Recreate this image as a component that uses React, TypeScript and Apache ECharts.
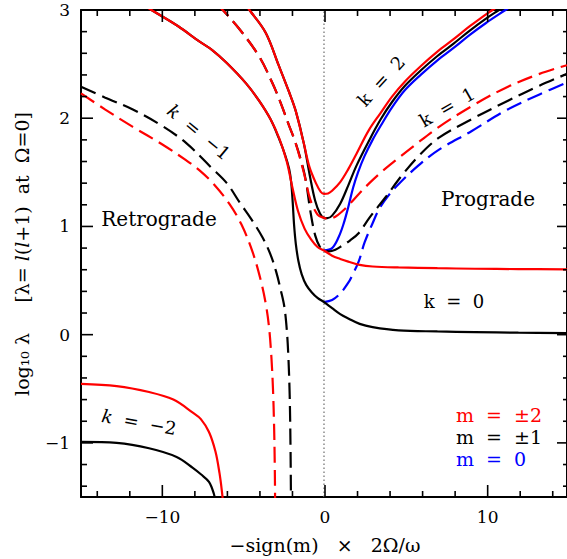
import React, { useEffect, useRef } from "react";
import * as echarts from "echarts";

// Curves: [x, log10 λ], x = −sign(m) × 2Ω/ω
// m = ±1 (black)
const m1K0: number[][] = [
  [-11.2, 3.05], [-10.65, 3.0], [-9.0, 2.85], [-7.7, 2.71], [-6.9, 2.63], [-6.0, 2.51],
  [-4.8, 2.32], [-4.0, 2.16], [-3.3, 1.99], [-2.8, 1.82], [-2.4, 1.66], [-2.15, 1.53],
  [-2.02, 1.40], [-1.93, 1.22], [-1.85, 1.02], [-1.74, 0.84], [-1.58, 0.68], [-1.38, 0.56],
  [-1.1, 0.46], [-0.75, 0.39], [-0.4, 0.34], [0, 0.301], [0.5, 0.245], [1.0, 0.19],
  [1.5, 0.15], [2.2, 0.10], [3.0, 0.07], [4.6, 0.04], [7.0, 0.03], [9.3, 0.024],
  [12.0, 0.018], [15.0, 0.015],
];
const m1K1: number[][] = [
  [-6.6, 3.05], [-6.25, 3.0], [-5.2, 2.82], [-4.0, 2.57], [-3.2, 2.33], [-2.75, 2.17],
  [-2.15, 1.93], [-1.75, 1.77], [-1.4, 1.6], [-1.13, 1.43], [-0.85, 1.15], [-0.55, 0.92],
  [-0.25, 0.81], [0, 0.778], [0.3, 0.77], [0.7, 0.785], [1.1, 0.82], [1.6, 0.87],
  [2.15, 0.94], [2.8, 1.08], [3.8, 1.27], [4.8, 1.47], [5.9, 1.66], [7.1, 1.82],
  [9.1, 1.99], [11.2, 2.15], [13.3, 2.30], [15.0, 2.41],
];
const m1K2: number[][] = [
  [-4.85, 3.05], [-4.6, 3.0], [-3.6, 2.79], [-2.8, 2.49], [-2.15, 2.24], [-1.75, 2.07],
  [-1.25, 1.77], [-0.85, 1.45], [-0.55, 1.24], [-0.25, 1.12], [0, 1.079], [0.2, 1.076],
  [0.5, 1.10], [1.0, 1.21], [1.5, 1.38], [2.0, 1.56], [2.77, 1.79], [3.5, 1.99],
  [4.2, 2.15], [5.0, 2.30], [6.0, 2.445], [7.0, 2.575], [8.0, 2.69], [9.0, 2.81],
  [10.0, 2.92], [10.8, 3.0], [11.3, 3.05],
];
const m1Km1: number[][] = [
  [-15, 2.29], [-13.5, 2.19], [-11.8, 2.08], [-10, 1.93], [-8.5, 1.77], [-7.0, 1.55],
  [-6.0, 1.40], [-5.2, 1.22], [-4.5, 1.07], [-3.8, 0.90], [-3.3, 0.74], [-2.95, 0.58],
  [-2.65, 0.40], [-2.45, 0.26], [-2.3, 0.05], [-2.2, -0.2], [-2.12, -0.55],
  [-2.07, -1.0], [-2.04, -1.5], [-2.03, -1.7],
];
const m1Km2: number[][] = [
  [-15, -0.99], [-12.8, -1.0], [-10.8, -1.05], [-9.1, -1.13], [-8.1, -1.23],
  [-7.6, -1.29], [-7.1, -1.36], [-6.8, -1.47], [-6.7, -1.55],
];

// m = ±2 (red)
const m2K0: number[][] = [
  [-11.2, 3.05], [-10.65, 3.0], [-9.0, 2.85], [-7.7, 2.71], [-6.9, 2.63], [-6.0, 2.51],
  [-4.8, 2.32], [-4.0, 2.16], [-3.3, 1.99], [-2.75, 1.81], [-2.3, 1.60], [-1.95, 1.36],
  [-1.6, 1.14], [-1.2, 0.98], [-0.8, 0.88], [-0.4, 0.81], [0, 0.778], [0.5, 0.73],
  [1.0, 0.70], [1.5, 0.675], [2.2, 0.645], [3.0, 0.63], [4.6, 0.621], [7.0, 0.614],
  [9.3, 0.609], [12.0, 0.606], [15.0, 0.603],
];
const m2K1: number[][] = [
  [-6.6, 3.05], [-6.25, 3.0], [-5.2, 2.82], [-4.0, 2.57], [-3.2, 2.33], [-2.75, 2.17],
  [-2.15, 1.93], [-1.75, 1.77], [-1.25, 1.50], [-0.85, 1.25], [-0.4, 1.11], [0, 1.079],
  [0.3, 1.07], [0.7, 1.09], [1.13, 1.14], [1.6, 1.21], [2.15, 1.30], [2.8, 1.40],
  [3.6, 1.51], [4.5, 1.62], [5.6, 1.75], [7.1, 1.92], [9.1, 2.11], [11.2, 2.28],
  [13.3, 2.41], [15.0, 2.49],
];
const m2K2: number[][] = [
  [-4.85, 3.05], [-4.6, 3.0], [-3.6, 2.79], [-2.8, 2.49], [-2.15, 2.24], [-1.75, 2.07],
  [-1.25, 1.77], [-0.9, 1.55], [-0.5, 1.40], [-0.2, 1.32], [0, 1.301], [0.25, 1.305],
  [0.5, 1.33], [1.0, 1.41], [1.5, 1.53], [2.0, 1.67], [2.77, 1.89], [3.5, 2.05],
  [4.2, 2.20], [5.0, 2.34], [6.0, 2.485], [7.0, 2.615], [8.0, 2.73], [9.0, 2.85],
  [10.0, 2.96], [10.4, 3.0], [10.9, 3.05],
];
const m2Km1: number[][] = [
  [-15, 2.23], [-13.5, 2.08], [-11.8, 1.92], [-10, 1.76], [-8.5, 1.61], [-7.7, 1.52],
  [-6.8, 1.39], [-5.85, 1.21], [-5.1, 1.02], [-4.4, 0.76], [-3.9, 0.50], [-3.6, 0.29],
  [-3.4, 0.08], [-3.25, -0.2], [-3.15, -0.5], [-3.08, -0.85], [-3.04, -1.2],
  [-3.02, -1.5], [-3.01, -1.7],
];
const m2Km2: number[][] = [
  [-15, -0.455], [-12.8, -0.475], [-10.8, -0.53], [-9.3, -0.60], [-8.1, -0.72],
  [-7.6, -0.78], [-7.1, -0.90], [-6.7, -1.08], [-6.45, -1.28], [-6.3, -1.45], [-6.2, -1.6],
];

// m = 0 (blue), prograde only
const m0K1: number[][] = [
  [0, 0.301], [0.5, 0.32], [1.0, 0.38], [1.5, 0.48], [1.75, 0.55], [2.15, 0.68],
  [2.5, 0.85], [3.0, 1.03], [3.4, 1.16], [4.0, 1.29], [4.6, 1.39], [5.8, 1.56],
  [7.1, 1.71], [9.1, 1.88], [11.2, 2.07], [13.3, 2.22], [15.0, 2.33],
];
const m0K2: number[][] = [
  [0, 0.778], [0.5, 0.80], [0.9, 0.90], [1.2, 1.02], [1.5, 1.18], [1.8, 1.36],
  [2.1, 1.50], [2.5, 1.65], [3.0, 1.80], [3.5, 1.93], [4.2, 2.10], [5.0, 2.26],
  [6.0, 2.405], [7.0, 2.535], [8.0, 2.65], [9.0, 2.77], [10.0, 2.88], [11.2, 3.0],
  [11.7, 3.05],
];

// Axis ranges, labelled ticks and minor tick steps
const xRange = [-15, 15];
const yRange = [-1.5, 3];
const xMajorTicks = [-10, 0, 10];
const yMajorTicks = [-1, 0, 1, 2, 3];
const xMinorStep = 2;
const yMinorStep = 0.2;

const RED = "#ff0000";
const BLACK = "#000000";
const BLUE = "#0000ff";
const FONT = "DejaVu Serif";
const MAJOR_LEN = 12;
const MINOR_LEN = 6;
const TICK_W = 1.6;

// plot box in pixels
const BOX = { left: 81, top: 10, width: 488, height: 487 };

const fmt = (v: number) => (v < 0 ? "\u2212" + Math.abs(v) : String(v));

const stepsIn = (lo: number, hi: number, step: number) => {
  const out: number[] = [];
  for (let i = Math.ceil(lo / step - 1e-9); i * step <= hi + 1e-9; i++) out.push(+(i * step).toFixed(6));
  return out;
};

const UX = BOX.width / (xRange[1] - xRange[0]);
const UY = BOX.height / (yRange[1] - yRange[0]);

// tick marks as thin filled bars on the frame (same linear mapping as the grid)
function tickRects() {
  const out: any[] = [];
  const bar = (x: number, y: number, w: number, h: number) => ({
    type: "rect", silent: true, z: 50,
    shape: { x, y, width: w, height: h },
    style: { fill: BLACK },
  });
  const bottom = BOX.top + BOX.height;
  const right = BOX.left + BOX.width;
  stepsIn(xRange[0], xRange[1], xMinorStep)
    .filter((v) => v > xRange[0] && v < xRange[1])
    .forEach((v) => {
      const len = xMajorTicks.includes(v) ? MAJOR_LEN : MINOR_LEN;
      const px = BOX.left + (v - xRange[0]) * UX;
      out.push(bar(px - TICK_W / 2, bottom - len, TICK_W, len));
      out.push(bar(px - TICK_W / 2, BOX.top, TICK_W, len));
    });
  stepsIn(yRange[0], yRange[1], yMinorStep)
    .filter((v) => v > yRange[0] + 1e-9 && v < yRange[1] - 1e-9)
    .forEach((v) => {
      const len = yMajorTicks.some((t) => Math.abs(t - v) < 1e-6) ? MAJOR_LEN : MINOR_LEN;
      const py = bottom - (v - yRange[0]) * UY;
      out.push(bar(BOX.left, py - TICK_W / 2, len, TICK_W));
      out.push(bar(right - len, py - TICK_W / 2, len, TICK_W));
    });
  return out;
}

function buildOption() {
  const xLo = xMajorTicks[0], xHi = xMajorTicks[xMajorTicks.length - 1];
  const yLo = yMajorTicks[0], yHi = yMajorTicks[yMajorTicks.length - 1];
  const bottom = BOX.top + BOX.height;

  // grid 0 holds the curves; grids 1 and 2 only place the tick labels
  const grids = [
    { ...BOX },
    { left: BOX.left + (xLo - xRange[0]) * UX, width: (xHi - xLo) * UX, top: BOX.top, height: BOX.height },
    { left: BOX.left, width: BOX.width, top: bottom - (yHi - yRange[0]) * UY, height: (yHi - yLo) * UY },
  ].map((g) => ({ ...g, containLabel: false, show: false }));

  const lineAxis = { show: true, onZero: false, lineStyle: { color: BLACK, width: 2 } };
  const noLine = { show: false, onZero: false };
  const hidden = () => ({ show: false });
  const label = { show: true, fontFamily: FONT, fontSize: 17, color: BLACK, formatter: fmt, margin: 11 };

  const xAxis: any[] = [
    { type: "value", gridIndex: 0, position: "bottom", min: xRange[0], max: xRange[1], axisLine: lineAxis, axisTick: hidden(), axisLabel: hidden(), splitLine: hidden() },
    { type: "value", gridIndex: 0, position: "top", min: xRange[0], max: xRange[1], axisLine: lineAxis, axisTick: hidden(), axisLabel: hidden(), splitLine: hidden() },
    { type: "value", gridIndex: 1, position: "bottom", min: xLo, max: xHi, interval: xMajorTicks[1] - xMajorTicks[0], axisLine: noLine, axisTick: hidden(), axisLabel: label, splitLine: hidden() },
    { type: "value", gridIndex: 2, show: false, min: xRange[0], max: xRange[1] },
  ];
  const yAxis: any[] = [
    { type: "value", gridIndex: 0, position: "left", min: yRange[0], max: yRange[1], axisLine: lineAxis, axisTick: hidden(), axisLabel: hidden(), splitLine: hidden() },
    { type: "value", gridIndex: 0, position: "right", min: yRange[0], max: yRange[1], axisLine: lineAxis, axisTick: hidden(), axisLabel: hidden(), splitLine: hidden() },
    { type: "value", gridIndex: 1, show: false, min: yRange[0], max: yRange[1] },
    { type: "value", gridIndex: 2, position: "left", min: yLo, max: yHi, interval: yMajorTicks[1] - yMajorTicks[0], axisLine: noLine, axisTick: hidden(), axisLabel: label, splitLine: hidden() },
  ];

  const curve = (data: number[][], color: string, dashed: boolean, z: number) => ({
    type: "line",
    xAxisIndex: 0,
    yAxisIndex: 0,
    data,
    smooth: 0.35,
    symbol: "none",
    silent: true,
    clip: true,
    z,
    lineStyle: { color, width: 2.2, type: dashed ? [16, 7] : "solid", cap: "butt" },
  });

  const series: any[] = [
    {
      type: "line", xAxisIndex: 0, yAxisIndex: 0, symbol: "none", silent: true, z: 1,
      data: [[0, yRange[0]], [0, yRange[1]]],
      lineStyle: { color: "#777777", width: 1.3, type: [1.5, 2.5] },
    },
    curve(m0K1, BLUE, true, 2),
    curve(m0K2, BLUE, false, 2),
    curve(m1Km2, BLACK, false, 3),
    curve(m1Km1, BLACK, true, 3),
    curve(m1K0, BLACK, false, 3),
    curve(m1K1, BLACK, true, 3),
    curve(m1K2, BLACK, false, 3),
    curve(m2Km2, RED, false, 4),
    curve(m2Km1, RED, true, 4),
    curve(m2K0, RED, false, 4),
    curve(m2K1, RED, true, 4),
    curve(m2K2, RED, false, 4),
  ];

  const rich = (size: number) => ({
    i: { fontFamily: FONT, fontSize: size, fontStyle: "italic", fill: BLACK },
    n: { fontFamily: FONT, fontSize: size, fill: BLACK },
  });

  const txt = (text: string, x: number, y: number, opts: any = {}) => ({
    type: "text",
    x,
    y,
    rotation: opts.rotation || 0,
    silent: true,
    z: 10,
    style: {
      text,
      fill: opts.color || BLACK,
      font: `${opts.size || 17}px "${FONT}"`,
      align: opts.align || "center",
      verticalAlign: "middle",
      textAlign: opts.align || "center",
      textVerticalAlign: "middle",
      rich: opts.rich,
    },
  });

  const graphic: any[] = [
    ...tickRects(),
    txt("Retrograde", 159, 219, { size: 20 }),
    txt("Prograde", 488, 199, { size: 20 }),
    txt("k  =  0", 454, 301, { size: 18 }),
    txt("k  =  2", 381, 81, { rotation: 0.83, size: 18 }),
    txt("k  =  1", 447, 107, { rotation: 0.52, size: 18 }),
    txt("{i|k}{n|  =  \u22121}", 199, 132, { rotation: -0.69, rich: rich(18) }),
    txt("{i|k}{n|  =  \u22122}", 139, 422, { rotation: -0.18, rich: rich(18) }),
    txt("m  =  \u00b12", 456, 415, { color: RED, align: "left", size: 19 }),
    txt("m  =  \u00b11", 456, 437, { color: BLACK, align: "left", size: 19 }),
    txt("m  =  0", 456, 459, { color: BLUE, align: "left", size: 19 }),
    txt("\u2212sign(m)   \u00d7   2\u03a9/\u03c9", 325, 545, { size: 19 }),
    txt(
      "{n|log\u2081\u2080 \u03bb     [\u03bb= }{i|l}{n|(}{i|l}{n|+1)  at  \u03a9=0]}",
      22, 254, { rotation: Math.PI / 2, rich: rich(19) },
    ),
  ];

  return { animation: false, backgroundColor: "#ffffff", grid: grids, xAxis, yAxis, series, graphic };
}

export default function App() {
  const ref = useRef<HTMLDivElement>(null);
  useEffect(() => {
    if (!ref.current) return;
    const chart = echarts.init(ref.current, undefined, { renderer: "svg" });
    chart.setOption(buildOption() as any);
    return () => chart.dispose();
  }, []);
  return <div ref={ref} style={{ position: "absolute", left: 0, top: 0, width: 567, height: 559 }} />;
}
